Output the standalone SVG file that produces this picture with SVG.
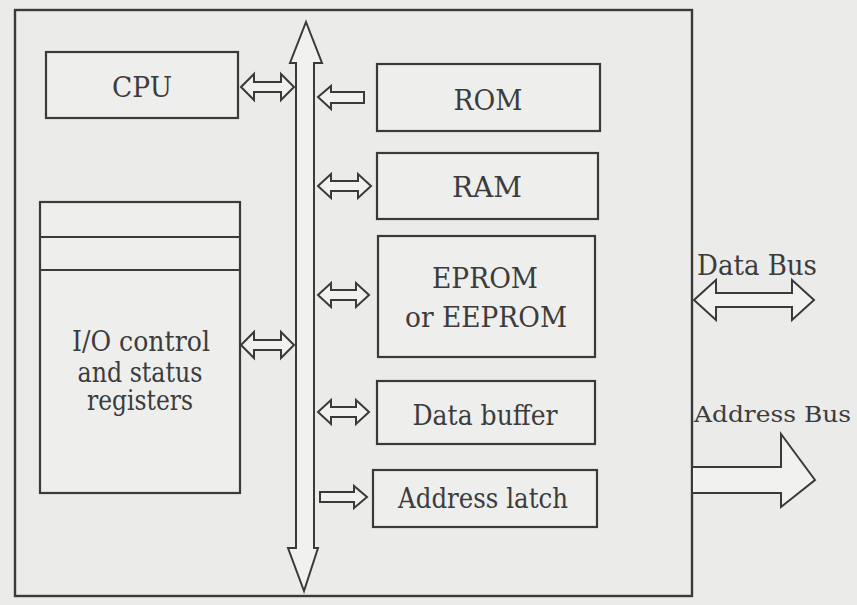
<svg xmlns="http://www.w3.org/2000/svg" width="857" height="605" viewBox="0 0 857 605">
<style>
.bg{fill:#ebebe9}
.box{fill:#eeeeec;stroke:#3a3a3a;stroke-width:2.2}
.arr{fill:#f1f1ef;stroke:#3a3a3a;stroke-width:2;stroke-linejoin:miter}
.t{text-anchor:middle}
</style>
<rect class="bg" x="0" y="0" width="857" height="605"/>
<g id="frame"><rect x="15" y="10" width="677" height="586" fill="none" stroke="#3a3a3a" stroke-width="2.4"/></g>
<g font-family="'DejaVu Serif', 'Liberation Serif', serif" font-size="27" fill="#3c3c3c">
<g id="cpu"><rect class="box" x="46" y="52" width="192" height="66"/><text class="t" x="142" y="97" textLength="60" lengthAdjust="spacingAndGlyphs">CPU</text></g>
<g id="io"><rect class="box" x="40" y="202" width="200" height="291"/><line x1="40" y1="237" x2="240" y2="237" stroke="#3a3a3a" stroke-width="2.2"/><line x1="40" y1="270" x2="240" y2="270" stroke="#3a3a3a" stroke-width="2.2"/>
<text class="t" x="141" y="351" textLength="138" lengthAdjust="spacingAndGlyphs">I/O control</text>
<text class="t" x="140" y="382" textLength="125" lengthAdjust="spacingAndGlyphs">and status</text>
<text class="t" x="140" y="410" textLength="106" lengthAdjust="spacingAndGlyphs">registers</text></g>
<g id="rom"><rect class="box" x="377" y="64" width="223" height="67"/><text class="t" x="488" y="110" textLength="69" lengthAdjust="spacingAndGlyphs">ROM</text></g>
<g id="ram"><rect class="box" x="377" y="153" width="221" height="66"/><text class="t" x="487" y="197" textLength="70" lengthAdjust="spacingAndGlyphs">RAM</text></g>
<g id="eprom"><rect class="box" x="378" y="236" width="217" height="121"/><text class="t" x="485" y="288" textLength="106" lengthAdjust="spacingAndGlyphs">EPROM</text><text class="t" x="486" y="327" textLength="162" lengthAdjust="spacingAndGlyphs">or EEPROM</text></g>
<g id="databuffer"><rect class="box" x="377" y="381" width="218" height="63"/><text class="t" x="485" y="425" textLength="145" lengthAdjust="spacingAndGlyphs">Data buffer</text></g>
<g id="addrlatch"><rect class="box" x="373" y="470" width="224" height="57"/><text class="t" x="483" y="508" textLength="170" lengthAdjust="spacingAndGlyphs">Address latch</text></g>
<g id="labels"><text x="697" y="275" textLength="120" lengthAdjust="spacingAndGlyphs">Data Bus</text><text x="694" y="422" font-size="22" textLength="157" lengthAdjust="spacingAndGlyphs">Address Bus</text></g>
</g>
<g id="connectors">
<path class="arr" d="M306 22 L322 63 L314 63 L314 548 L318 548 L304 591 L288 548 L296 548 L296 63 L290 63 Z"/>
<path class="arr" d="M241 87 L254 74 L254 82 L281 82 L281 74 L294 87 L281 100 L281 92 L254 92 L254 100 Z"/>
<path class="arr" d="M241 345 L254 332 L254 340 L281 340 L281 332 L294 345 L281 358 L281 350 L254 350 L254 358 Z"/>
<path class="arr" d="M318 97 L331 86 L331 92 L364 92 L364 103 L331 103 L331 109 Z"/>
<path class="arr" d="M318 186 L331 174 L331 181 L358 181 L358 174 L371 186 L358 198 L358 191 L331 191 L331 198 Z"/>
<path class="arr" d="M318 295 L331 283 L331 290 L356 290 L356 283 L369 295 L356 307 L356 300 L331 300 L331 307 Z"/>
<path class="arr" d="M318 412 L331 400 L331 407 L356 407 L356 400 L369 412 L356 424 L356 417 L331 417 L331 424 Z"/>
<path class="arr" d="M320 492 L354 492 L354 486 L367 497 L354 508 L354 502 L320 502 Z"/>
<path class="arr" d="M694 300 L716 280 L716 293 L792 293 L792 280 L814 300 L792 320 L792 307 L716 307 L716 320 Z"/>
<path class="arr" d="M692 467 L781 467 L781 434 L815 480 L781 507 L781 493 L692 493 Z"/>
</g>
</svg>
